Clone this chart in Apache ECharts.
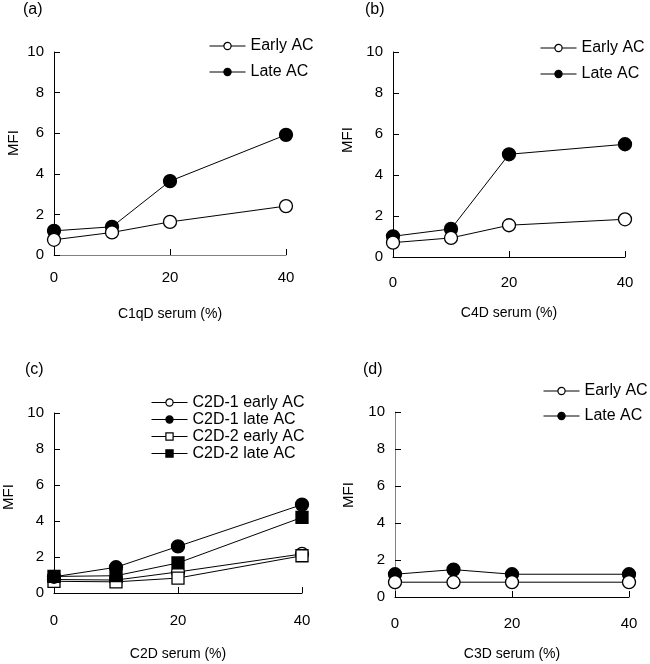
<!DOCTYPE html>
<html>
<head>
<meta charset="utf-8">
<script src="https://cdn.jsdelivr.net/npm/echarts@6/dist/echarts.min.js"></script>
<style>html,body{margin:0;padding:0;background:#fff}#c{width:650px;height:664px}</style>
</head>
<body>
<div id="c"></div>
<script>
// ---- data ----
const serumPct = [0, 10, 20, 40];
const yTicks = [0, 2, 4, 6, 8, 10];
const xTicks = [0, 20, 40];

const panelLabels = ['(a)', '(b)', '(c)', '(d)'];
const xNames = ['C1qD serum (%)', 'C4D serum (%)', 'C2D serum (%)', 'C3D serum (%)'];
const yName = 'MFI';

// (a) C1qD
const a_early = [0.75, 1.11, 1.63, 2.41];
const a_late = [1.19, 1.39, 3.64, 5.92];
// (b) C4D
const b_early = [0.70, 0.93, 1.55, 1.84];
const b_late = [1.01, 1.37, 5.01, 5.50];
// (c) C2D
const c1_early = [0.75, 0.72, 1.17, 2.17];
const c1_late = [0.90, 1.43, 2.59, 4.91];
const c2_early = [0.65, 0.62, 0.83, 2.07];
const c2_late = [0.92, 0.96, 1.67, 4.20];
// (d) C3D
const d_early = [0.80, 0.80, 0.80, 0.80];
const d_late = [1.23, 1.48, 1.23, 1.23];

// ---- layout ----
const FONT = 'Liberation Sans, Arial, Helvetica, sans-serif';
const grids = [
  {left: 54, top: 52, width: 232, height: 203},
  {left: 393, top: 52, width: 232, height: 205},
  {left: 54, top: 413, width: 248, height: 180},
  {left: 395, top: 412, width: 234, height: 185}
];
const xLineColor = ['#808080', '#000', '#000', '#000'];
const yLineColor = ['#000', '#000', '#000', '#808080'];
const xLabelMargin = [15, 18, 20, 19];
const xNameGap = [52, 49, 54, 50];

function pairs(ys) { return serumPct.map((x, i) => [x, ys[i]]); }

const xAxes = grids.map((g, i) => ({
  type: 'value', gridIndex: i, min: 0, max: 40, interval: 20,
  name: xNames[i], nameLocation: 'middle', nameGap: xNameGap[i],
  nameTextStyle: {fontFamily: FONT, fontSize: 14, color: '#000'},
  axisLine: {show: true, onZero: false, lineStyle: {color: xLineColor[i], width: 1}},
  axisTick: {show: true, inside: true, length: 6, lineStyle: {color: '#000', width: 1}},
  axisLabel: {fontFamily: FONT, fontSize: 15, color: '#000', margin: xLabelMargin[i],
    formatter: v => xTicks.indexOf(v) >= 0 ? String(v) : ''},
  splitLine: {show: false}
}));
const yAxes = grids.map((g, i) => ({
  type: 'value', gridIndex: i, min: 0, max: 10, interval: 2,
  axisLine: {show: true, lineStyle: {color: yLineColor[i], width: 1}},
  axisTick: {show: true, inside: true, length: 6, lineStyle: {color: '#000', width: 1}},
  axisLabel: {fontFamily: FONT, fontSize: 15, color: '#000', margin: 10,
    formatter: v => yTicks.indexOf(v) >= 0 ? String(v) : ''},
  splitLine: {show: false}
}));

function ser(name, idx, ys, symbol, filled, z) {
  return {
    type: 'line', name: name, xAxisIndex: idx, yAxisIndex: idx,
    data: pairs(ys), symbol: symbol, symbolSize: symbol === 'rect' ? 12 : 13,
    showSymbol: true, z: z,
    lineStyle: {color: '#000', width: 1},
    itemStyle: {color: filled ? '#000' : '#fff', borderColor: '#000', borderWidth: 1.3},
    emphasis: {disabled: true}, animation: false
  };
}

const series = [
  ser('Late AC', 0, a_late, 'circle', true, 2),
  ser('Early AC', 0, a_early, 'circle', false, 3),
  ser('Late AC', 1, b_late, 'circle', true, 2),
  ser('Early AC', 1, b_early, 'circle', false, 3),
  ser('C2D-1 early AC', 2, c1_early, 'circle', false, 2),
  ser('C2D-2 early AC', 2, c2_early, 'rect', false, 3),
  ser('C2D-1 late AC', 2, c1_late, 'circle', true, 4),
  ser('C2D-2 late AC', 2, c2_late, 'rect', true, 5),
  ser('Late AC', 3, d_late, 'circle', true, 2),
  ser('Early AC', 3, d_early, 'circle', false, 3)
];

function legend(left, top, names, lh, gap) {
  return {
    left: left, top: top, orient: 'vertical', itemWidth: 36, itemHeight: 9,
    itemGap: gap, selectedMode: false, data: names,
    lineStyle: {width: 1, color: '#000'},
    itemStyle: {borderWidth: 1.2},
    textStyle: {fontFamily: FONT, fontSize: 16, color: '#000', lineHeight: lh}
  };
}

const panelPos = [[23, 10], [365, 10], [25, 370], [363, 370]];

const option = {
  animation: false,
  backgroundColor: '#fff',
  grid: grids,
  xAxis: xAxes,
  yAxis: yAxes,
  series: series,
  legend: [
    legend(204, 32, ['Early AC', 'Late AC'], 18, 8),
    legend(535, 34, ['Early AC', 'Late AC'], 18, 8),
    legend(146, 389, ['C2D-1 early AC', 'C2D-1 late AC', 'C2D-2 early AC', 'C2D-2 late AC'], 17, 0),
    legend(538, 377, ['Early AC', 'Late AC'], 18, 7)
  ],
  graphic: panelLabels.map((t, i) => ({
    type: 'text', x: panelPos[i][0], y: panelPos[i][1],
    style: {text: t, fontFamily: FONT, fontSize: 16, fill: '#000', textVerticalAlign: 'middle'}
  })).concat([[14, 143], [348, 140], [9, 497], [349, 495]].map(p => ({
    type: 'text', x: p[0], y: p[1], rotation: Math.PI / 2,
    style: {text: yName, fontFamily: FONT, fontSize: 15, fill: '#000', textAlign: 'center', textVerticalAlign: 'middle'}
  })))
};

const chart = echarts.init(document.getElementById('c'), null, {renderer: 'canvas'});
chart.setOption(option);
</script>
</body>
</html>
